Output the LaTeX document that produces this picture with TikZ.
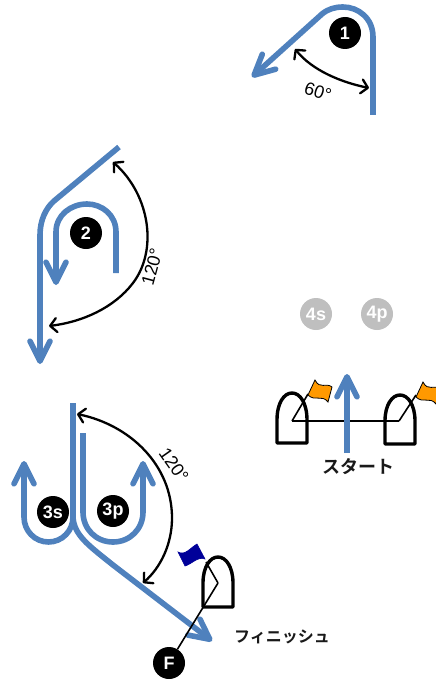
\documentclass[tikz,border=0pt]{standalone}
\usepackage{fontspec}
\setmainfont{Liberation Sans}
\newfontfamily\jpfont{Noto Sans CJK JP Bold}
\usetikzlibrary{arrows.meta}
\definecolor{routeblue}{RGB}{79,129,189}
\definecolor{flagorange}{RGB}{255,153,0}
\definecolor{flagblue}{RGB}{0,0,153}
\tikzset{
  route/.style={draw=routeblue,line width=5.6bp,line join=round},
  routearrow/.style={route,-{Straight Barb[round,length=20bp,width=20bp,line width=5.6bp]}},
  angle/.style={draw=black,line width=2.3bp,{Straight Barb[round,length=6.5bp,width=14bp]}-{Straight Barb[round,length=6.5bp,width=14bp]}},
  badge/.style={circle,fill=black,text=white,minimum size=32bp,inner sep=0pt,font=\fontsize{18bp}{18bp}\selectfont\bfseries},
  greybadge/.style={badge,fill=black!25},
  boat/.style={draw=black,line width=3.4bp,line join=round},
  flagpole/.style={draw=black,line width=1.6bp},
  startline/.style={draw=black,line width=2.2bp},
  anglelabel/.style={font=\fontsize{18bp}{18bp}\selectfont,inner sep=0pt},
  jplabel/.style={inner sep=0pt,text=black!90}
}
\begin{document}
\begin{tikzpicture}[x=1bp,y=-1bp]
\useasboundingbox (0,0) rectangle (436,681);

% --- mark 1
\node[badge] (m1) at (345,33) {1};
\draw[routearrow] (373,115) -- (373,37) .. controls (373,18) and (358,7) .. (343,7)
   .. controls (335,7) and (328,9) .. (322,14) -- (252,77);
\draw[angle] (295,49) .. controls (312,70) and (340,82) .. (369,88);
\node[anglelabel,rotate=-18] (a60) at (318,92) {60°};

% --- mark 2
\node[badge] (m2) at (86,233) {2};
\draw[route] (119,147) -- (54,201) .. controls (46,208) and (40,220) .. (40,235);
\draw[routearrow] (40,235) -- (40,364);
\draw[route] (116,273) -- (116,232) .. controls (116,215) and (102,204) .. (87,204)
   .. controls (71,204) and (56,215) .. (56,232);
\draw[routearrow] (56,232) -- (56,285);
\draw[angle] (113,162) .. controls (150,195) and (158,250) .. (133,283) .. controls (114,308) and (82,322) .. (49,326);
\node[anglelabel,rotate=75] (a120a) at (152,267) {120°};

% --- marks 4
\node[greybadge] (m4s) at (316,314) {4s};
\node[greybadge] (m4p) at (377,314) {4p};

% --- start
\coordinate (sl) at (292,421);
\coordinate (sr) at (399,421);
\draw[boat] (277,443) -- (277,420) .. controls (277,403) and (284,393) .. (292,393)
   .. controls (300,393) and (307,403) .. (307,420) -- (307,443) -- cycle;
\draw[boat] (385,444) -- (385,421) .. controls (385,405) and (392,395) .. (400,395)
   .. controls (408,395) and (415,405) .. (415,421) -- (415,444) -- cycle;
\draw[startline] (sl) -- (sr);
\draw[flagpole] (sl) -- (308,394);
\draw[flagpole] (sr) -- (416,395);
\draw[fill=flagorange,draw=black,line width=.8bp] (315,380) .. controls (320,390) and (326,382) .. (332,387)
   -- (328,402) .. controls (322,394) and (315,402) .. (308,395) -- cycle;
\draw[fill=flagorange,draw=black,line width=.8bp] (423,382) .. controls (428,392) and (434,384) .. (440,389)
   -- (436,404) .. controls (430,396) and (423,404) .. (416,397) -- cycle;
\draw[routearrow] (347,453) -- (347,374);
\node[jplabel,font=\jpfont\fontsize{18bp}{18bp}\selectfont] (st) at (358,467) {スタート};

% --- marks 3
\node[badge] (m3s) at (53,512) {3s};
\node[badge] (m3p) at (113,511) {3p};
\draw[route] (73,403) -- (73,517) .. controls (73,531) and (62,542) .. (48.5,542)
   .. controls (35,542) and (24,531) .. (24,517) -- (24,512);
\draw[routearrow] (24,512) -- (24,461);
\draw[route] (83,433) -- (83,512) .. controls (83,529) and (96,542) .. (113,542)
   .. controls (130,542) and (143,529) .. (143,512);
\draw[routearrow] (143,512) -- (143,461);
\draw[routearrow] (73,517) .. controls (74,535) and (88,545) .. (113,565) -- (212,641);
\draw[angle] (77,414) .. controls (130,425) and (172,465) .. (172,518) .. controls (172,545) and (160,568) .. (143,583);
\node[anglelabel,rotate=-55] (a120b) at (174,465) {120°};

% --- finish
\node[badge] (mf) at (169,663) {F};
\coordinate (fb) at (218,583);
\draw[boat] (203,607) -- (203,583) .. controls (203,567) and (210,557) .. (218,557)
   .. controls (226,557) and (233,567) .. (233,583) -- (233,607) -- cycle;
\draw[flagpole] (fb) -- (206,562);
\draw[flagpole] (fb) -- (mf);
\draw[fill=flagblue,draw=flagblue,line width=.6bp] (178,552) .. controls (185,556) and (190,548) .. (197,544)
   -- (205,559) .. controls (198,556) and (192,564) .. (185,566) -- cycle;
\node[jplabel,font=\jpfont\fontsize{16bp}{16bp}\selectfont] (fin) at (282,637) {フィニッシュ};
\end{tikzpicture}
\end{document}
